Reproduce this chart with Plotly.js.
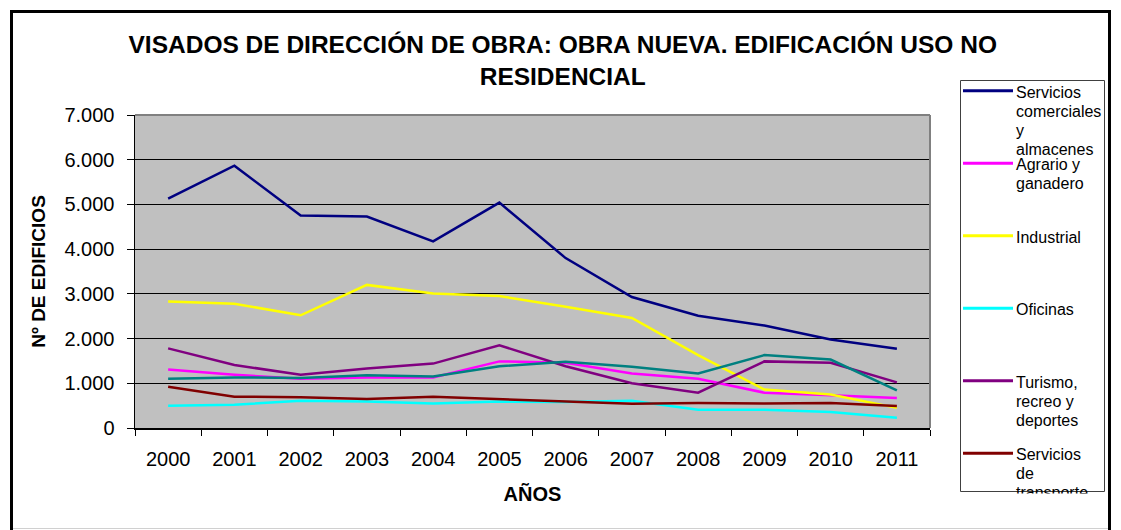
<!DOCTYPE html>
<html>
<head>
<meta charset="utf-8">
<script src="https://cdn.plot.ly/plotly-3.0.1.min.js"></script>
<style>
  html, body { margin: 0; padding: 0; background: #fff; }
  #chart { width: 1121px; height: 530px; }
</style>
</head>
<body>
<div id="chart"></div>
<script>
// years on the x axis
const years = ['2000', '2001', '2002', '2003', '2004', '2005', '2006', '2007', '2008', '2009', '2010', '2011'];

// Nº de edificios per use
const comerciales = [5130, 5865, 4750, 4730, 4175, 5040, 3800, 2930, 2510, 2290, 1980, 1770];
const agrario     = [1310, 1190, 1100, 1130, 1130, 1490, 1460, 1220, 1100, 790, 730, 670];
const industrial  = [2830, 2780, 2520, 3200, 3010, 2950, 2710, 2460, 1630, 860, 750, 450];
const oficinas    = [500, 520, 610, 590, 550, 590, 580, 610, 410, 410, 360, 230];
const turismo     = [1780, 1410, 1190, 1330, 1440, 1850, 1380, 1000, 790, 1490, 1460, 1020];
const transporte  = [920, 700, 690, 650, 700, 650, 600, 540, 560, 550, 560, 490];
// 7th series, its legend entry is cut off in the original
const publicos    = [1100, 1130, 1120, 1180, 1150, 1380, 1480, 1370, 1220, 1630, 1530, 840];

const seriesNames = [
  'Servicios\ncomerciales\ny\nalmacenes',
  'Agrario y\nganadero',
  'Industrial',
  'Oficinas',
  'Turismo,\nrecreo y\ndeportes',
  'Servicios\nde\ntransporte',
  'Servicios públicos'
];
const seriesValues = [comerciales, agrario, industrial, oficinas, turismo, transporte, publicos];
const seriesColors = ['#000080', '#FF00FF', '#FFFF00', '#00FFFF', '#800080', '#800000', '#008080'];
const legendCount = 6; // only six entries fit in the legend box

const yTicks = [0, 1000, 2000, 3000, 4000, 5000, 6000, 7000];

const FONT = 'Liberation Sans, Arial, sans-serif';
const W = 1121, H = 530;
const M = { l: 135, r: 191, t: 115, b: 102 };
const PW = W - M.l - M.r, PH = H - M.t - M.b;
// pixel -> paper coords
const px = x => (x - M.l) / PW;
const py = y => (H - M.b - y) / PH;

const traces = seriesValues.map((vals, i) => ({
  type: 'scatter',
  mode: 'lines',
  x: years,
  y: vals,
  name: seriesNames[i].replace(/\n/g, ' '),
  line: { color: seriesColors[i], width: 2.5 },
  showlegend: false
}));

const shapes = [
  // outer chart frame
  { type: 'rect', xref: 'paper', yref: 'paper', x0: px(11.5), x1: px(1109.5), y0: py(545), y1: py(11.5),
    line: { color: '#000', width: 3 }, layer: 'below' },
  { type: 'line', xref: 'paper', yref: 'paper', x0: px(13), x1: px(1108), y0: py(528.5), y1: py(528.5),
    line: { color: '#d0d0d0', width: 1 } },
  // grey plot border top and right
  { type: 'line', xref: 'paper', yref: 'paper', x0: 0, x1: 1, y0: 1, y1: 1,
    line: { color: '#808080', width: 2 } },
  { type: 'line', xref: 'paper', yref: 'paper', x0: 1, x1: 1, y0: 0, y1: 1,
    line: { color: '#808080', width: 2 } },
  // legend box
  { type: 'rect', xref: 'paper', yref: 'paper', x0: px(960.5), x1: px(1104.5), y0: py(491.5), y1: py(80.5),
    line: { color: '#404040', width: 1 }, fillcolor: '#fff', layer: 'below' }
];

const annotations = [];
for (let i = 0; i < legendCount; i++) {
  const yl = 90.7 + 72.5 * i;
  shapes.push({ type: 'line', xref: 'paper', yref: 'paper', x0: px(963), x1: px(1013), y0: py(yl), y1: py(yl),
    line: { color: seriesColors[i], width: 3 } });
  seriesNames[i].split('\n').forEach((txt, j) => {
    annotations.push({ xref: 'paper', yref: 'paper', x: px(1014), y: py(yl + 1.5 + 19 * j),
      xanchor: 'left', yanchor: 'middle', showarrow: false, text: txt,
      font: { family: FONT, size: 16, color: '#000' } });
  });
}
// the legend box clips its last line
annotations.push({ xref: 'paper', yref: 'paper', x: px(962), y: py(492.5), xanchor: 'left', yanchor: 'top',
  showarrow: false, text: ' ', width: 140, height: 24, bgcolor: '#fff', borderpad: 0 });

const layout = {
  width: W, height: H,
  margin: M,
  separators: ',.',
  paper_bgcolor: '#fff',
  plot_bgcolor: '#C0C0C0',
  font: { family: FONT, color: '#000' },
  title: {
    text: '<b>VISADOS DE DIRECCIÓN DE OBRA: OBRA NUEVA. EDIFICACIÓN USO NO<br>RESIDENCIAL</b>',
    font: { family: FONT, size: 24.5, color: '#000' },
    xref: 'container', x: 0.502, xanchor: 'center',
    yref: 'container', y: 1 - 53 / H, yanchor: 'top'
  },
  xaxis: {
    type: 'category',
    range: [-0.5, years.length - 0.5],
    tickson: 'boundaries',
    ticks: 'outside', ticklen: 6, tickcolor: '#000', tickwidth: 1,
    showline: true, linecolor: '#000', linewidth: 1.5,
    showgrid: false,
    tickfont: { family: FONT, size: 20, color: '#000' },
    ticklabelstandoff: 12,
    title: { text: '<b>AÑOS</b>', font: { family: FONT, size: 20, color: '#000' }, standoff: 18 },
    fixedrange: true
  },
  yaxis: {
    range: [0, 7000],
    tickvals: yTicks,
    tickformat: ',d',
    ticks: 'outside', ticklen: 7, tickcolor: '#000', tickwidth: 1,
    showline: true, linecolor: '#000', linewidth: 1.5,
    showgrid: true, gridcolor: '#000', gridwidth: 1,
    zeroline: false,
    tickfont: { family: FONT, size: 20, color: '#000' },
    ticklabelstandoff: 8,
    title: { text: '<b>Nº DE EDIFICIOS</b>', font: { family: FONT, size: 19, color: '#000' }, standoff: 14 },
    fixedrange: true
  },
  shapes: shapes,
  annotations: annotations
};

Plotly.newPlot('chart', traces, layout, { displayModeBar: false, staticPlot: true });
</script>
</body>
</html>
